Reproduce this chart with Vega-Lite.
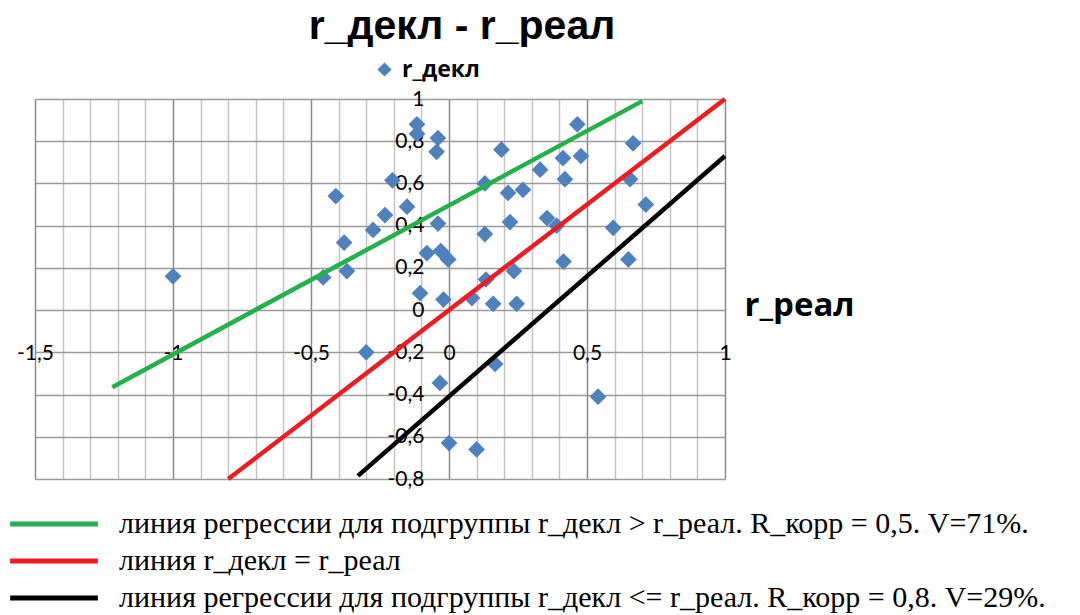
{
  "$schema": "https://vega.github.io/schema/vega-lite/v6.json",
  "width": 690,
  "height": 380,
  "autosize": {"type": "none"},
  "padding": {"left": 35, "top": 99, "right": 355, "bottom": 136},
  "background": "white",
  "title": {"text": "r_декл - r_реал", "font": "Liberation Sans", "fontSize": 41, "fontWeight": "bold", "color": "#000000", "anchor": "middle", "dx": 82, "offset": -22, "baseline": "alphabetic"},
  "config": {"view": {"stroke": null}, "font": "Lato"},
  "encoding": {
    "x": {
      "field": "x", "type": "quantitative",
      "scale": {"domain": [-1.5, 1], "nice": false, "zero": false},
      "axis": {
        "values": [-1.5, -1.4, -1.3, -1.2, -1.1, -1.0, -0.9, -0.8, -0.7, -0.6, -0.5, -0.4, -0.3, -0.2, -0.1, 0, 0.1, 0.2, 0.3, 0.4, 0.5, 0.6, 0.7, 0.8, 0.9, 1.0],
        "orient": "bottom", "offset": -170, "domain": false, "ticks": false, "tickSize": 0,
        "labelPadding": 33, "labelFont": "Lato", "labelFontSize": 21, "labelColor": "#000000",
        "labelFlush": false, "labelOverlap": false,
        "labelExpr": "abs(datum.value*2 - round(datum.value*2)) < 0.001 ? replace('' + datum.value, '.', ',') : ''",
        "grid": true,
        "gridColor": {"condition": {"test": "abs(datum.value*2 - round(datum.value*2)) < 0.001", "value": "#8a8a8a"}, "value": "#c4c4c4"},
        "gridWidth": 1.5,
        "title": "r_реал", "titleFont": "Open Sans", "titleFontSize": 33, "titleFontWeight": "bold", "titleColor": "#000000",
        "titleX": 709, "titleY": -4, "titleAlign": "left", "titleBaseline": "middle", "titleAngle": 0
      }
    },
    "y": {
      "field": "y", "type": "quantitative",
      "scale": {"domain": [-0.8, 1], "nice": false, "zero": false},
      "axis": {
        "values": [-0.8, -0.6, -0.4, -0.2, 0, 0.2, 0.4, 0.6, 0.8, 1],
        "orient": "left", "offset": -414, "domain": false, "ticks": false, "tickSize": 0,
        "labelPadding": 25, "labelFont": "Lato", "labelFontSize": 21, "labelColor": "#000000",
        "labelFlush": false, "labelOverlap": false, "labelAlign": "right", "labelBaseline": "middle",
        "labelExpr": "replace('' + datum.value, '.', ',')",
        "grid": true, "gridColor": "#9a9a9a", "gridWidth": 1.5,
        "title": null
      }
    }
  },
  "layer": [
    {
      "data": {"values": [
        {"x": -1.0, "y": 0.16}, {"x": -0.456, "y": 0.155}, {"x": -0.41, "y": 0.54}, {"x": -0.38, "y": 0.32},
        {"x": -0.37, "y": 0.185}, {"x": -0.30, "y": -0.2}, {"x": -0.275, "y": 0.38}, {"x": -0.232, "y": 0.45},
        {"x": -0.205, "y": 0.615}, {"x": -0.152, "y": 0.49}, {"x": -0.116, "y": 0.88}, {"x": -0.116, "y": 0.835},
        {"x": -0.04, "y": 0.815}, {"x": -0.045, "y": 0.75}, {"x": -0.04, "y": 0.41}, {"x": -0.08, "y": 0.27},
        {"x": -0.03, "y": 0.28}, {"x": -0.003, "y": 0.24}, {"x": -0.105, "y": 0.08}, {"x": -0.02, "y": 0.05},
        {"x": -0.033, "y": -0.345}, {"x": 0.0, "y": -0.63}, {"x": 0.1, "y": -0.66}, {"x": 0.083, "y": 0.057},
        {"x": 0.16, "y": 0.03}, {"x": 0.245, "y": 0.03}, {"x": 0.134, "y": 0.145}, {"x": 0.167, "y": -0.255},
        {"x": 0.235, "y": 0.185}, {"x": 0.13, "y": 0.36}, {"x": 0.13, "y": 0.60}, {"x": 0.19, "y": 0.76},
        {"x": 0.214, "y": 0.555}, {"x": 0.268, "y": 0.57}, {"x": 0.221, "y": 0.417}, {"x": 0.33, "y": 0.665},
        {"x": 0.355, "y": 0.436}, {"x": 0.39, "y": 0.40}, {"x": 0.413, "y": 0.72}, {"x": 0.42, "y": 0.62},
        {"x": 0.415, "y": 0.23}, {"x": 0.465, "y": 0.88}, {"x": 0.478, "y": 0.73}, {"x": 0.54, "y": -0.41},
        {"x": 0.595, "y": 0.39}, {"x": 0.65, "y": 0.24}, {"x": 0.656, "y": 0.62}, {"x": 0.667, "y": 0.79},
        {"x": 0.713, "y": 0.50}
      ]},
      "mark": {"type": "point", "shape": "diamond", "filled": true, "size": 280, "opacity": 1},
      "encoding": {
        "fill": {
          "datum": "r_декл", "type": "nominal",
          "scale": {"range": ["#4F81BD"]},
          "legend": {"title": null, "orient": "none", "direction": "vertical", "legendX": 338, "legendY": -41, "padding": 0,
            "symbolType": "diamond", "symbolSize": 200, "symbolFillColor": "#4F81BD", "symbolStrokeWidth": 0,
            "labelFont": "Open Sans", "labelFontSize": 23, "labelFontWeight": "bold", "labelColor": "#000000", "labelOffset": 6}
        }
      }
    },
    {
      "data": {"values": [
        {"series": "линия регрессии для подгруппы r_декл > r_реал. R_корр = 0,5. V=71%.", "x": -1.22, "y": -0.365},
        {"series": "линия регрессии для подгруппы r_декл > r_реал. R_корр = 0,5. V=71%.", "x": 0.70, "y": 0.99},
        {"series": "линия r_декл = r_реал", "x": -0.8, "y": -0.8},
        {"series": "линия r_декл = r_реал", "x": 1.0, "y": 1.0},
        {"series": "линия регрессии для подгруппы r_декл  <= r_реал.  R_корр = 0,8. V=29%.", "x": -0.33, "y": -0.785},
        {"series": "линия регрессии для подгруппы r_декл  <= r_реал.  R_корр = 0,8. V=29%.", "x": 1.0, "y": 0.73}
      ]},
      "mark": {"type": "line", "strokeWidth": 4.5},
      "encoding": {
        "stroke": {
          "field": "series", "type": "nominal",
          "scale": {
            "domain": ["линия регрессии для подгруппы r_декл > r_реал. R_корр = 0,5. V=71%.", "линия r_декл = r_реал", "линия регрессии для подгруппы r_декл  <= r_реал.  R_корр = 0,8. V=29%."],
            "range": ["#22B14C", "#ED1C24", "#000000"]
          },
          "legend": {"title": null, "orient": "none", "direction": "vertical", "legendX": 4, "legendY": 410, "padding": 0,
            "symbolType": "M-10,0H10", "symbolSize": 77, "symbolStrokeWidth": 5,
            "labelFont": "Liberation Serif", "labelFontSize": 30, "labelColor": "#000000", "labelOffset": 50, "labelLimit": 0, "rowPadding": 7}
        }
      }
    }
  ]
}
